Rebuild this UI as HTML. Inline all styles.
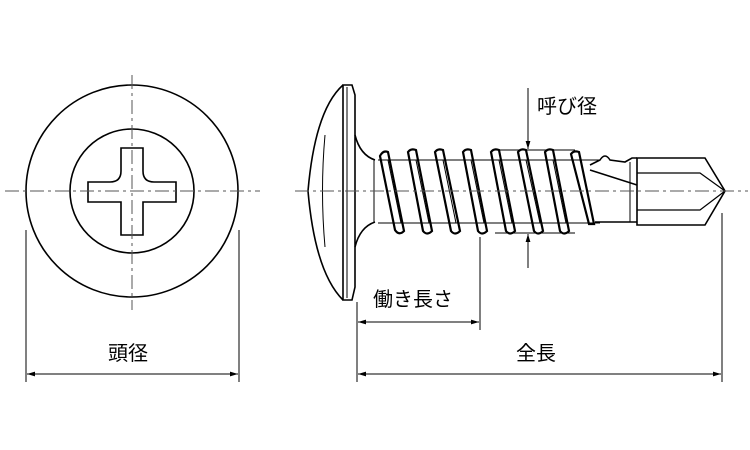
<!DOCTYPE html>
<html><head><meta charset="utf-8"><style>
html,body{margin:0;padding:0;background:#fff;}
svg{display:block;}
text{font-family:"Liberation Sans","Noto Sans CJK JP",sans-serif;font-size:20px;fill:#000;}
</style></head><body>
<svg width="750" height="450" viewBox="0 0 750 450" xmlns="http://www.w3.org/2000/svg">
<defs><marker id="a" viewBox="0 0 10 10" refX="10" refY="5" markerWidth="8" markerHeight="8" orient="auto-start-reverse"><path d="M0,2 L10,5 L0,8 z" fill="#000"/></marker></defs>
<g fill="none" stroke="#000" stroke-width="1.6">
<circle cx="132" cy="191" r="106"/>
<circle cx="132" cy="191" r="62"/>
<path d="M121,148 H143 V171 Q143,182 154,182 H176 V202 H143 V235 H121 V202 H88 V182 H110 Q121,182 121,171 Z"/>
<path d="M343,85 Q315,110 308,191 Q315,272 343,300"/>
<path d="M325,135 Q320,191 325,247" stroke-width="1"/>
<path d="M343,85 L352,85 L355,95 L355,287 L352,300 L343,300 Z"/>
<line x1="347" y1="87" x2="347" y2="298" stroke-width="1"/>
<path d="M355,135 Q360,155 375,160"/>
<path d="M355,247 Q360,227 375,222"/>
<line x1="374" y1="160" x2="374" y2="222" stroke-width="1"/>
<line x1="378" y1="160" x2="600" y2="160" stroke-width="1"/>
<line x1="378" y1="223" x2="600" y2="223" stroke-width="1"/>
<g stroke-width="2.2">
<path d="M380,156 Q383,150 388,152 L404,231 Q399,236 395,230 Z"/>
<path d="M408,152 Q411,148 416,150 L432,231 Q427,236 423,231 Z"/>
<path d="M435,152 Q438,148 443,150 L460,231 Q455,236 451,231 Z"/>
<path d="M463,152 Q466,148 471,150 L487,231 Q482,236 478,231 Z"/>
<path d="M491,152 Q494,148 499,150 L515,231 Q510,236 506,231 Z"/>
<path d="M518,152 Q521,148 526,150 L543,231 Q538,236 534,231 Z"/>
<path d="M545,152 Q548,148 553,150 L569,231 Q564,236 560,231 Z"/>
<path d="M571,154 Q574,150 579,152 L594,224 L589,224 Z"/>
</g>
<g stroke-width="1">
<path d="M388,160 L401,223 M416,160 L429,223 M443,160 L456,223 M471,160 L484,223 M499,160 L512,223 M526,160 L540,223 M553,160 L566,223"/>
</g>
<path d="M590,165 L600,160 Q605,152 610,160 L625,162 L632,158 L637,158"/>
<path d="M590,170 L637,185 M595,222 L637,222"/>
<path d="M637,158 L705,158 L725,191 L705,225 L637,225 Z"/>
<path d="M637,173 L700,173 L725,191 M637,210 L700,210 L725,191" stroke-width="1.2"/>
<line x1="630" y1="162" x2="630" y2="222" stroke-width="1"/>
</g>
<g stroke="#555" stroke-width="1" stroke-dasharray="14,4,3,4" fill="none">
<line x1="5" y1="191" x2="260" y2="191"/>
<line x1="132" y1="75" x2="132" y2="310"/>
<line x1="295" y1="191" x2="748" y2="191"/>
</g>
<g stroke="#000" stroke-width="1" fill="none">
<line x1="26" y1="230" x2="26" y2="382"/>
<line x1="239" y1="230" x2="239" y2="382"/>
<line x1="27" y1="374" x2="238" y2="374" marker-start="url(#a)" marker-end="url(#a)"/>
<line x1="357" y1="302" x2="357" y2="382"/>
<line x1="480" y1="237" x2="480" y2="330"/>
<line x1="722" y1="213" x2="722" y2="382"/>
<line x1="358" y1="322" x2="479" y2="322" marker-start="url(#a)" marker-end="url(#a)"/>
<line x1="358" y1="374" x2="721" y2="374" marker-start="url(#a)" marker-end="url(#a)"/>
<line x1="495" y1="150" x2="575" y2="150"/>
<line x1="495" y1="233" x2="575" y2="233"/>
<line x1="528" y1="88" x2="528" y2="149" marker-end="url(#a)"/>
<line x1="528" y1="268" x2="528" y2="234" marker-end="url(#a)"/>
</g>
<text x="108" y="360">頭径</text>
<text x="373" y="306">働き長さ</text>
<text x="516" y="360">全長</text>
<text x="537" y="113">呼び径</text>
</svg>
</body></html>
